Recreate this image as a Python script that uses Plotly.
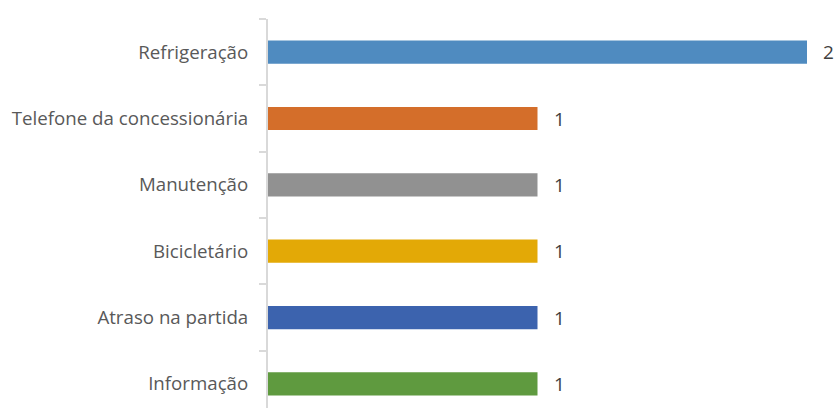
import plotly.graph_objects as go

# Categories listed bottom to top (Plotly draws y from the bottom)
categories = ["Informação", "Atraso na partida", "Bicicletário", "Manutenção",
              "Telefone da concessionária", "Refrigeração"]
values = [1, 1, 1, 1, 1, 2]
colors = ["#5f9a3f", "#3c63ae", "#e3a906", "#919191", "#d46e2a", "#4f8bc0"]

positions = list(range(len(categories)))
FONT = "Open Sans, Lato, sans-serif"

fig = go.Figure(
    go.Bar(
        x=values,
        y=positions,
        orientation="h",
        marker=dict(color=colors, line=dict(width=0)),
        width=0.35,
        hoverinfo="skip",
    )
)

# Value labels placed just past the end of each bar
for v, p in zip(values, positions):
    fig.add_annotation(
        x=v, y=p, text=str(v), showarrow=False,
        xanchor="left", yanchor="middle", xshift=14,
        font=dict(family=FONT, size=19, color="#404040"),
    )

fig.update_layout(
    width=837,
    height=408,
    margin=dict(l=268, r=30, t=19, b=0),
    paper_bgcolor="white",
    plot_bgcolor="white",
    showlegend=False,
    font=dict(family=FONT, color="#595959"),
)

fig.update_xaxes(
    range=[0, 2],
    visible=False,
    showgrid=False,
    zeroline=False,
)

fig.update_yaxes(
    range=[-0.364, 5.5],
    tickvals=positions,
    ticktext=categories,
    ticks="",
    tickfont=dict(family=FONT, size=18.7, color="#595959"),
    ticklabelstandoff=14,
    showline=True,
    linecolor="#d9d9d9",
    linewidth=2,
    showgrid=False,
    zeroline=False,
    minor=dict(tick0=0.5, dtick=1, ticks="outside", ticklen=7,
               tickcolor="#d9d9d9", tickwidth=2, showgrid=False),
)

fig.write_html("out.html")
